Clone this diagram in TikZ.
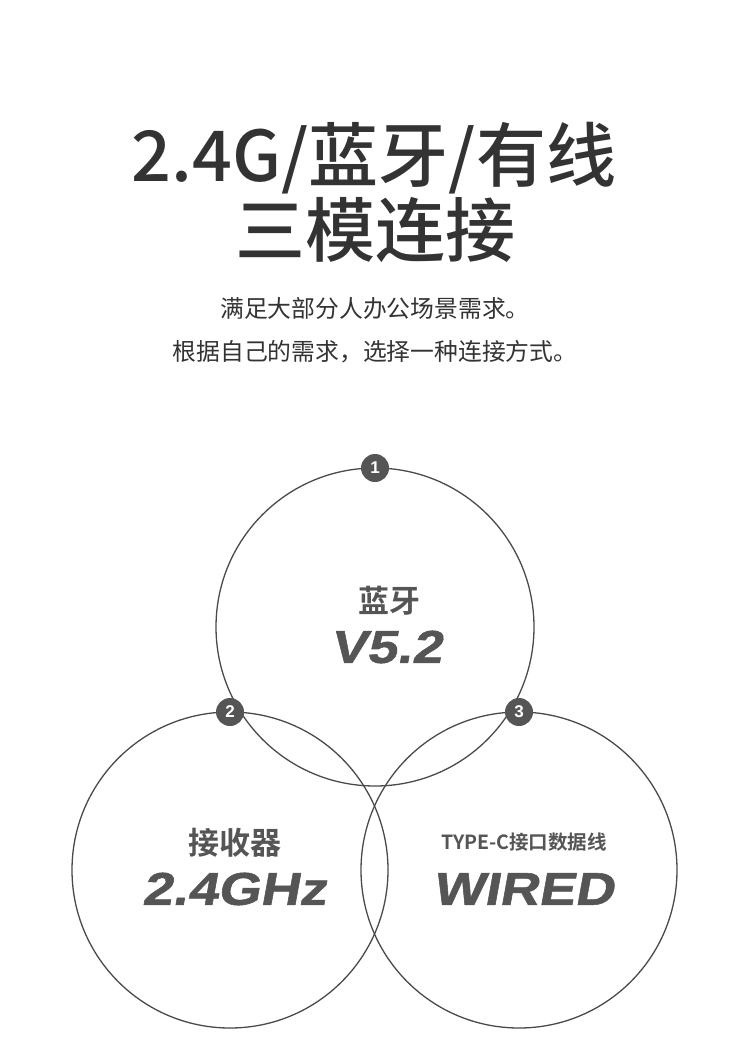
\documentclass[tikz,border=0pt]{standalone}
\usepackage{fontspec}
\setmainfont{Noto Sans CJK SC}
\newfontfamily\cjk{Noto Sans CJK SC}
\newfontfamily\cjkm{Noto Sans CJK SC Medium}
\newfontfamily\cjkb{Noto Sans CJK SC Bold}
\newfontfamily\bigital[FakeSlant=0.18,FakeStretch=1.18,FakeBold=1.2]{Liberation Sans Bold}
\newfontfamily\badgefont{Liberation Sans Bold}
\definecolor{ink}{HTML}{333333}
\definecolor{lab}{HTML}{555555}
\definecolor{ring}{HTML}{4A4A4A}
\definecolor{badge}{HTML}{555555}
\tikzset{
  title/.style={text=ink,inner sep=0pt,font=\cjkm\fontsize{70}{72}\selectfont},
  sub/.style={text=ink,inner sep=0pt,font=\cjk\fontsize{23.8}{26}\selectfont},
  ringc/.style={draw=ring,line width=1.3pt},
  badgec/.style={circle,fill=badge,minimum size=28pt,inner sep=0pt,text=white,font=\badgefont\fontsize{17}{17}\selectfont},
  cnlab/.style={text=lab,inner sep=0pt,font=\cjkb\fontsize{31}{33}\selectfont},
  cnsmall/.style={text=lab,inner sep=0pt,font=\cjkb\fontsize{19.5}{21}\selectfont},
  biglab/.style={text=lab,inner sep=0pt,font=\bigital\fontsize{46}{48}\selectfont}
}
\begin{document}
\begin{tikzpicture}[x=1pt,y=-1pt]
\useasboundingbox[fill=white] (0,0) rectangle (750,1056);
\node[title] (t1) at (374,158) {2.4G/蓝牙/有线};
\node[title] (t2) at (375,230) {三模连接};
\node[sub] (s1) at (375,308) {满足大部分人办公场景需求。};
\node[sub] (s2) at (375,352) {根据自己的需求，选择一种连接方式。};
\draw[ringc] (375,627) circle (159);
\draw[ringc] (230,870) circle (158);
\draw[ringc] (519,870) circle (158);
\node[badgec] (b1) at (375,468) {1};
\node[badgec] (b2) at (230,712) {2};
\node[badgec] (b3) at (519,712) {3};
\node[cnlab] (l1) at (389,601) {蓝牙};
\node[biglab] (v1) at (386,647) {V5.2};
\node[cnlab] (l2) at (235,843) {接收器};
\node[biglab] (v2) at (234,889) {2.4GHz};
\node[cnsmall] (l3) at (524,842) {TYPE-C接口数据线};
\node[biglab] (v3) at (523,889) {WIRED};
\end{tikzpicture}
\end{document}
